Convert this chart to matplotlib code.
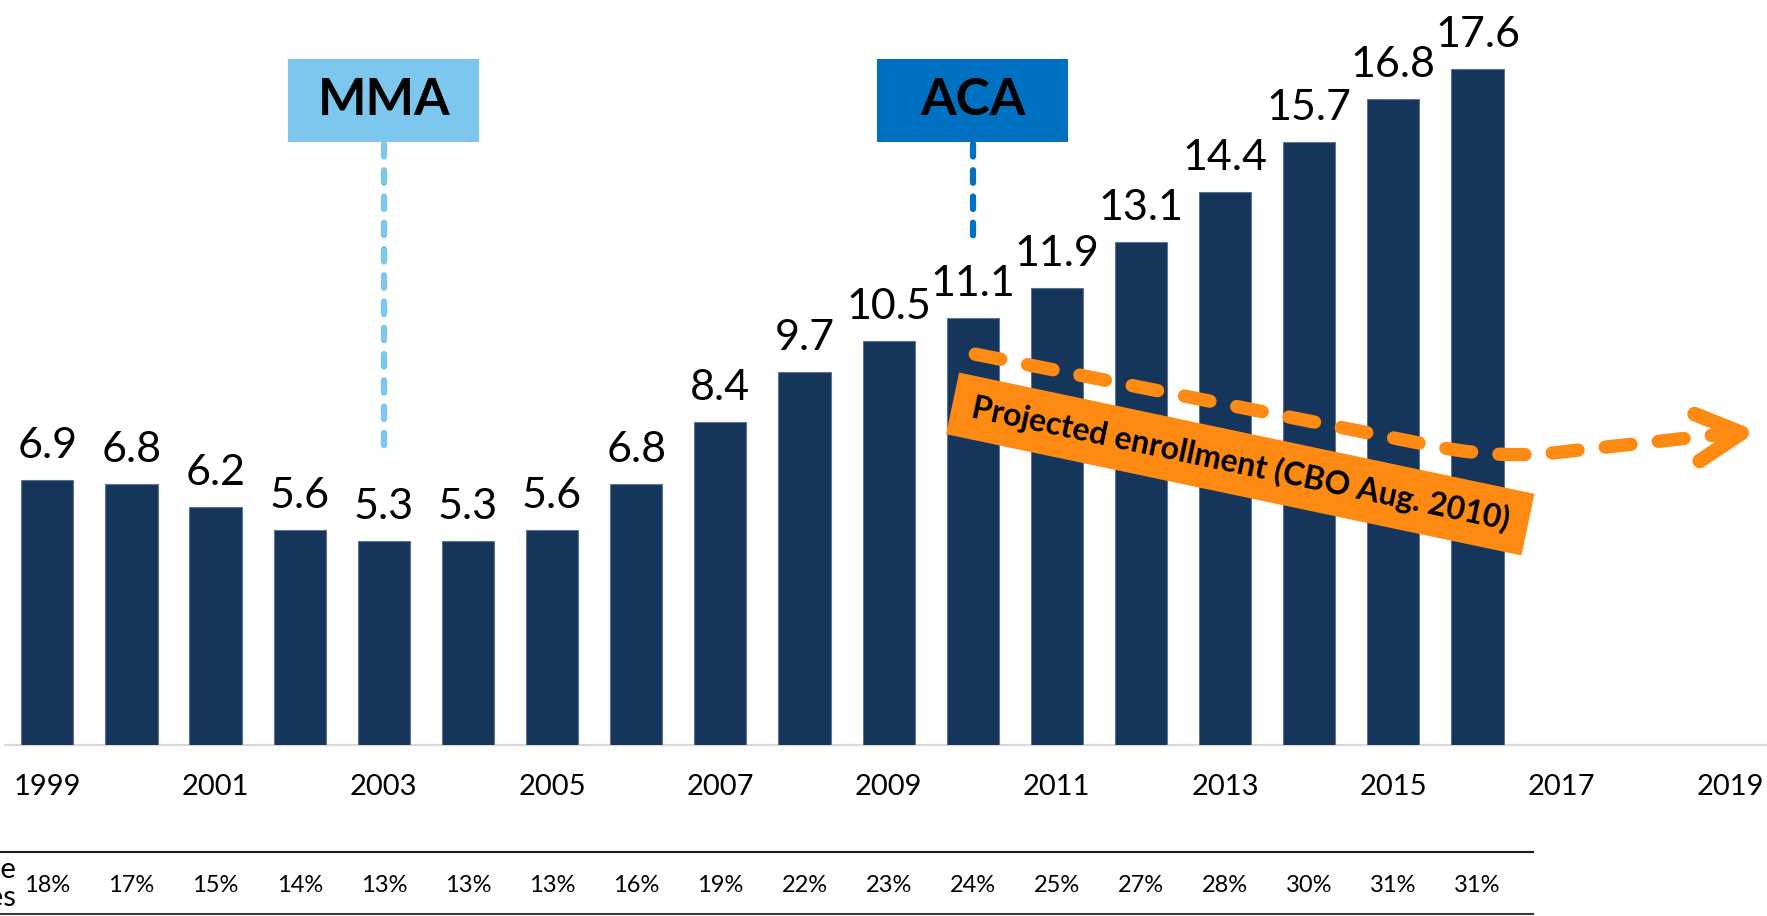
import matplotlib
matplotlib.use("Agg")
import matplotlib.pyplot as plt
from matplotlib.patches import Rectangle, PathPatch
from matplotlib.path import Path
from matplotlib.lines import Line2D
from matplotlib.transforms import Affine2D

plt.rcParams['font.family'] = ['Lato', 'DejaVu Sans']

# ---- data ----
years = list(range(1999, 2017))
enrollment = [6.9, 6.8, 6.2, 5.6, 5.3, 5.3, 5.6, 6.8, 8.4, 9.7, 10.5, 11.1,
              11.9, 13.1, 14.4, 15.7, 16.8, 17.6]
share_labels = ['18%', '17%', '15%', '14%', '13%', '13%', '13%', '16%', '19%',
                '22%', '23%', '24%', '25%', '27%', '28%', '30%', '31%', '31%']
tick_years = list(range(1999, 2020, 2))
row_label = 'Share of Medicare\nbeneficiaries'
events = ['MMA', 'ACA']
event_years = [2003, 2010]
projection_label = 'Projected enrollment (CBO Aug. 2010)'

W, H = 1767, 916
fig = plt.figure(figsize=(W / 100, H / 100), dpi=100)

px_per_year = 84.13
x0_px = 47.3
base_px = 745.0          # from top
px_per_unit = 38.43
xmin = 1999 - (x0_px - 5.2) / px_per_year
xmax = 1999 + (W - x0_px) / px_per_year
ytop = base_px / px_per_unit

ax = fig.add_axes([5.2 / W, (H - base_px) / H, (W - 5.2) / W, base_px / H])
ax.set_xlim(xmin, xmax)
ax.set_ylim(0, ytop)
ax.axis('off')

bar_color = '#15355B'
ax.bar(years, enrollment, width=0.62, color=bar_color, edgecolor='#5f7491',
       linewidth=0.8, zorder=2)
ax.axhline(0, color='#D9D9D9', lw=1.6, zorder=1, clip_on=False)

for x, v in zip(years, enrollment):
    ax.annotate(f'{v:.1f}', xy=(x, v), xytext=(0, 22), textcoords='offset pixels',
                ha='center', va='baseline', fontsize=31, color='black', zorder=5)

for y in tick_years:
    ax.annotate(str(y), xy=(y, 0), xytext=(0, -50), textcoords='offset pixels',
                ha='center', va='baseline', fontsize=21, color='black',
                annotation_clip=False)

for x, s in zip(years, share_labels):
    ax.annotate(s, xy=(x, 0), xytext=(0, -147), textcoords='offset pixels',
                ha='center', va='baseline', fontsize=17, color='black',
                annotation_clip=False)

# table rules
fig.add_artist(Line2D([0, 1533 / W], [(H - 852) / H] * 2, transform=fig.transFigure,
                      color='#1a1a1a', lw=1.5))
fig.add_artist(Line2D([0, 1533 / W], [(H - 914) / H] * 2, transform=fig.transFigure,
                      color='#3a3a3a', lw=1.5))
fig.text(16 / W, (H - 884) / H, row_label, ha='right', va='center', fontsize=21,
         linespacing=1.1, color='black')

# event boxes
box_colors = ['#7DC6EE', '#0070C0']
box_w = 2.27
box_y0 = (base_px - 142) / px_per_unit
box_y1 = (base_px - 59) / px_per_unit
line_ends = [(base_px - 456) / px_per_unit, (base_px - 237) / px_per_unit]
for name, ey, c, ye in zip(events, event_years, box_colors, line_ends):
    ax.add_patch(Rectangle((ey - box_w / 2, box_y0), box_w, box_y1 - box_y0,
                           facecolor=c, edgecolor='none', zorder=4, clip_on=False))
    ax.text(ey, (box_y0 + box_y1) / 2, name, ha='center', va='center',
            fontsize=37, fontweight='bold', color='black', zorder=5)
    ax.plot([ey, ey], [box_y0 - 0.06, ye], color=c, lw=4.5,
            dashes=(2.0, 2.2), dash_capstyle='round', zorder=3)

# projection arrow
orange = '#FD8A13'
verts = [(2010.03, 10.17), (2015.55, 7.75), (2016.33, 7.42), (2017.10, 7.65),
         (2019.05, 8.12)]
codes = [Path.MOVETO, Path.LINETO, Path.CURVE3, Path.CURVE3, Path.LINETO]
ax.add_patch(PathPatch(Path(verts, codes), facecolor='none', edgecolor=orange,
                       lw=9.6, linestyle=(0, (1.95, 2.05)), capstyle='round',
                       zorder=6, clip_on=False))
ax.plot([2018.58, 2019.14, 2018.64], [8.61, 8.12, 7.39], color=orange, lw=10.5,
        solid_capstyle='round', solid_joinstyle='round', zorder=6, clip_on=False)

# projected enrollment label box
cx, cy = ax.transData.transform((2013.18, (base_px - 464) / px_per_unit))
ang = -11.9
rect = Rectangle((-294, -31.5), 588, 63, facecolor=orange, edgecolor='none',
                 transform=Affine2D().rotate_deg(ang).translate(cx, cy), zorder=7)
fig.add_artist(rect)
fig.text(cx / W, cy / H, projection_label, rotation=ang, rotation_mode='anchor',
         ha='center', va='center', fontsize=23, fontweight='bold', color='black',
         zorder=8)

fig.savefig('out.png', dpi=100)
